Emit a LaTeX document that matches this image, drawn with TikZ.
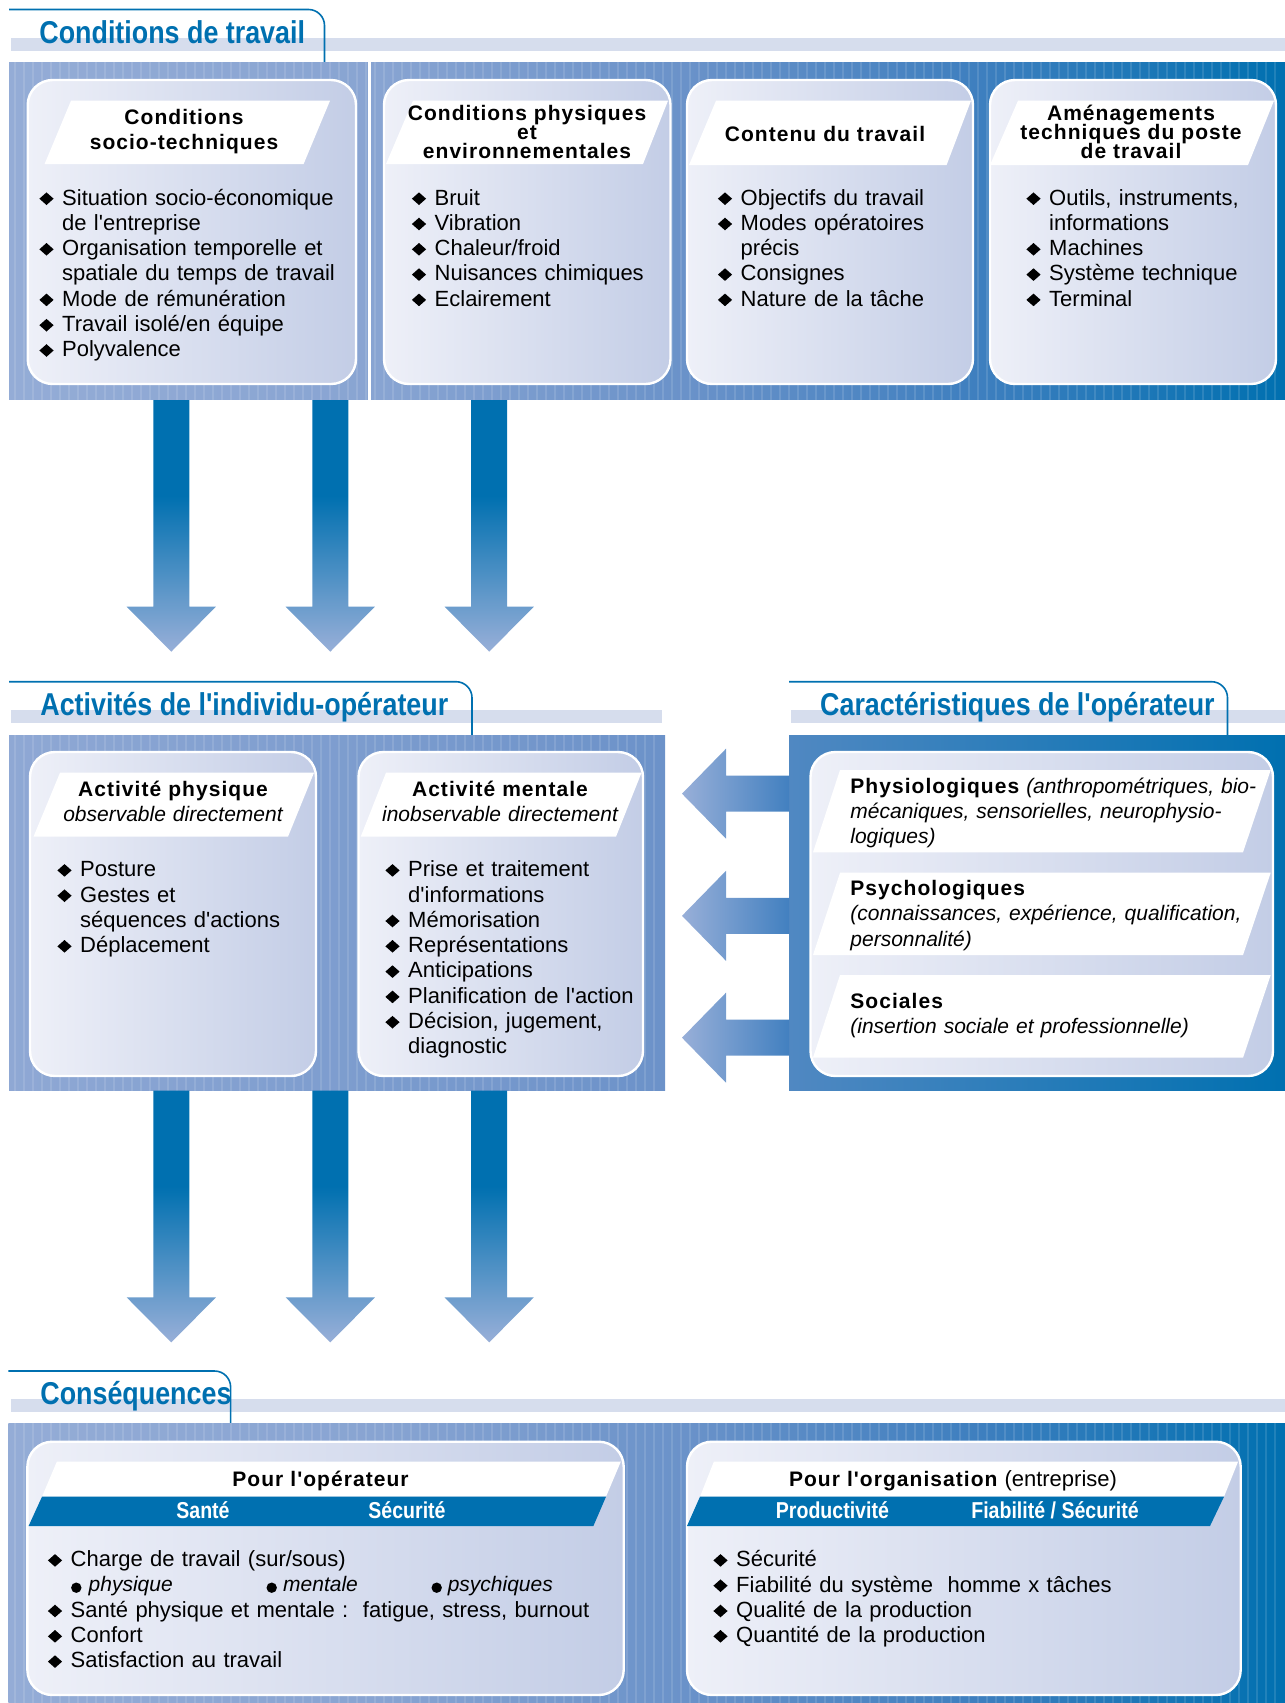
\documentclass[tikz,border=0pt]{standalone}
\usepackage{fontspec}
\usepackage{graphicx}
\setmainfont[Ligatures=TeXOff]{Liberation Sans}
\newfontfamily\headfont[LetterSpace=5,Ligatures=TeXOff]{Liberation Sans}
\newfontfamily\titlefont[FakeStretch=0.85,Ligatures=TeXOff]{Liberation Sans}

\definecolor{titleblue}{RGB}{0,112,176}
\definecolor{bandgray}{RGB}{214,221,237}
\definecolor{panel0}{RGB}{148,172,214}
\definecolor{panel1}{RGB}{136,164,210}
\definecolor{panel2}{RGB}{106,146,201}
\definecolor{panel3}{RGB}{62,127,191}
\definecolor{boxlight}{RGB}{238,240,248}
\definecolor{boxdark}{RGB}{195,205,230}
\definecolor{arrowlight}{RGB}{152,175,216}
\definecolor{arrowend}{RGB}{66,128,192}
\definecolor{midleft}{RGB}{143,168,212}
\definecolor{midright}{RGB}{108,146,201}
\definecolor{charleft}{RGB}{80,136,194}

\pgfdeclarehorizontalshading{panelshade}{100bp}{color(0bp)=(panel0); color(25bp)=(panel0); color(39.5bp)=(panel1); color(51.5bp)=(panel2); color(63bp)=(panel3); color(75bp)=(titleblue); color(100bp)=(titleblue)}
\pgfdeclareverticalshading{dropshade}{100bp}{color(0bp)=(arrowlight); color(25bp)=(arrowlight); color(56bp)=(titleblue); color(100bp)=(titleblue)}

% diamond bullet and the indent of a continued line.
\newcommand\puce{\makebox[11.4pt][l]{\resizebox{7.1pt}{6.3pt}{\rotatebox{45}{\rule{5pt}{5pt}}}}}
\newcommand\suite{\hspace*{11.4pt}}

\tikzset{
  panel/.style={shading=panelshade},
  innerbox/.style={draw=white, line width=1.2pt, rounded corners=12.5pt, left color=boxlight, right color=boxdark},
  band/.style={fill=bandgray},
  tabline/.style={draw=titleblue, line width=0.8pt, rounded corners=8pt},
  stripe/.style={white, opacity=0.12, line width=0.6pt},
  title/.style={anchor=base west, inner sep=0pt, text=titleblue, font=\titlefont\bfseries\fontsize{15.8}{18}\selectfont},
  head/.style={anchor=base, inner sep=0pt, align=center, text width=270pt, font={\headfont\bfseries\fontsize{10.5}{12.5}\selectfont\lineskiplimit=-20pt}},
  head3/.style={head, font={\headfont\bfseries\fontsize{10.5}{9.5}\selectfont\lineskiplimit=-20pt}},
  sublabel/.style={anchor=base, inner sep=0pt, text=white, font=\titlefont\bfseries\fontsize{11.5}{13}\selectfont},
  items/.style={anchor=base west, inner sep=0pt, align=left, text width=280pt, font={\fontsize{11}{12.65}\selectfont\lineskiplimit=-20pt}},
  chartext/.style={anchor=base west, inner sep=0pt, align=left, text width=220pt, font={\fontsize{10.5}{12.6}\selectfont\lineskiplimit=-20pt}},
  subitem/.style={anchor=base west, inner sep=0pt, font=\itshape\fontsize{10.5}{12}\selectfont},
  down arrow/.pic={
    \path[shading=dropshade] (-18,0) -- (18,0) -- (18,206.7) -- (44.6,206.7)
      -- (0,251.7) -- (-44.6,206.7) -- (-18,206.7) -- cycle;
  },
  left arrow/.pic={
    \path[left color=arrowlight, right color=arrowend] (0,-18) -- (-63,-18) -- (-63,-45)
      -- (-107,0) -- (-63,45) -- (-63,18) -- (0,18) -- cycle;
  }
}

\begin{document}
\begin{tikzpicture}[x=0.5pt, y=-0.5pt]
    \useasboundingbox (0,0) rectangle (1285,1703);

    % title tab, conditions de travail.
    \fill[band] (11,38.3) rectangle (1285,50.7);
    \draw[tabline] (9,9.5) -- (324.5,9.5) -- (324.5,62);
    \node[title] (travail title) at (39,43) {Conditions de travail};

    % top panel with its striping and separator.
    \path[panel] (9,62) rectangle (1285,399.5);
    \foreach \x in {15,24,...,1280}
        \draw[stripe] (\x,62) -- (\x,399.5);
    \draw[white, line width=1.5pt] (369.5,62) -- (369.5,399.5);

    % top boxes.
    \draw[innerbox] (27.7,80) rectangle (356,384);
    \draw[innerbox] (384,80) rectangle (670.5,384);
    \draw[innerbox] (687,80) rectangle (973,384);
    \draw[innerbox] (990,80) rectangle (1276,384);
    \fill[white] (71,100.7) -- (330,100.7) -- (303.6,164) -- (44.6,164) -- cycle;
    \fill[white] (413,100.7) -- (668,100.7) -- (643,164) -- (386,164) -- cycle;
    \fill[white] (716,100.7) -- (971,100.7) -- (946.6,165) -- (689,165) -- cycle;
    \fill[white] (1018,100.7) -- (1274,100.7) -- (1248,165) -- (990,165) -- cycle;
    \node[head] (socio head) at (184,124) {Conditions\\socio-techniques};
    \node[head3] (physique head) at (527,120) {Conditions physiques\\et\\environnementales};
    \node[head] (contenu head) at (825,141.7) {Contenu du travail};
    \node[head3] (amenagement head) at (1131,120) {Aménagements\\techniques du poste\\de travail};
    \node[items] (socio items) at (39,205) {\puce Situation socio-économique\\\suite de l'entreprise\\\puce Organisation temporelle et\\\suite spatiale du temps de travail\\\puce Mode de rémunération\\\puce Travail isolé/en équipe\\\puce Polyvalence};
    \node[items] (physique items) at (411.5,205) {\puce Bruit\\\puce Vibration\\\puce Chaleur/froid\\\puce Nuisances chimiques\\\puce Eclairement};
    \node[items] (contenu items) at (717.5,205) {\puce Objectifs du travail\\\puce Modes opératoires\\\suite précis\\\puce Consignes\\\puce Nature de la tâche};
    \node[items] (amenagement items) at (1026,205) {\puce Outils, instruments,\\\suite informations\\\puce Machines\\\puce Système technique\\\puce Terminal};

    % arrows down to the activities.
    \pic at (171.3,400) {down arrow};
    \pic at (330.3,400) {down arrow};
    \pic at (489.2,400) {down arrow};

    % title tabs, activites and caracteristiques.
    \fill[band] (11,710) rectangle (662,722.7);
    \draw[tabline] (9,681.7) -- (472,681.7) -- (472,735);
    \node[title] (activites title) at (40,715) {Activités de l'individu-opérateur};
    \fill[band] (791,710) rectangle (1285,722.7);
    \draw[tabline] (789,681.7) -- (1227.5,681.7) -- (1227.5,735);
    \node[title] (operateur title) at (819.8,715) {Caractéristiques de l'opérateur};

    % activites panel.
    \path[left color=midleft, right color=midright] (9,735) rectangle (665,1090.7);
    \foreach \x in {15,24,...,660}
        \draw[stripe] (\x,735) -- (\x,1090.7);
    \draw[innerbox] (30,752) rectangle (316,1076);
    \draw[innerbox] (358.5,752) rectangle (643,1076);
    \fill[white] (60,772.7) -- (314,772.7) -- (288,836.7) -- (33.5,836.7) -- cycle;
    \fill[white] (386,772.7) -- (641.5,772.7) -- (616,836.7) -- (360.7,836.7) -- cycle;
    \node[head] (physique act) at (173,796.7) {Activité physique\\{\normalfont\itshape\fontsize{10.5}{12.5}\selectfont observable directement}};
    \node[head] (mentale act) at (500,796.7) {Activité mentale\\{\normalfont\itshape\fontsize{10.5}{12.5}\selectfont inobservable directement}};
    \node[items] (physique list) at (57,876.7) {\puce Posture\\\puce Gestes et\\\suite séquences d'actions\\\puce Déplacement};
    \node[items] (mentale list) at (385,876.7) {\puce Prise et traitement\\\suite d'informations\\\puce Mémorisation\\\puce Représentations\\\puce Anticipations\\\puce Planification de l'action\\\puce Décision, jugement,\\\suite diagnostic};

    % caracteristiques panel.
    \path[left color=charleft, right color=titleblue] (789,735) rectangle (1285,1090.7);
    \draw[innerbox] (810.5,752) rectangle (1273,1076);
    \fill[white] (840,770) -- (1270.7,770) -- (1243,852.3) -- (813,852.3) -- cycle;
    \fill[white] (840,872.7) -- (1270.7,872.7) -- (1243,955) -- (813,955) -- cycle;
    \fill[white] (840,975) -- (1270.7,975) -- (1243,1057.7) -- (813,1057.7) -- cycle;
    \node[chartext] (physio text) at (850,793.3) {{\headfont\bfseries Physiologiques} \textit{(anthropométriques, bio-}\\\textit{mécaniques, sensorielles, neurophysio-}\\\textit{logiques)}};
    \node[chartext] (psycho text) at (850,895.7) {{\headfont\bfseries Psychologiques}\\\textit{(connaissances, expérience, qualification,}\\\textit{personnalité)}};
    \node[chartext] (sociales text) at (850,1008) {{\headfont\bfseries Sociales}\\\textit{(insertion sociale et professionnelle)}};

    % arrows from the operator to the activities.
    \pic at (789,793.7) {left arrow};
    \pic at (789,915.8) {left arrow};
    \pic at (789,1037.7) {left arrow};

    % arrows down to the consequences.
    \pic at (171.3,1090.7) {down arrow};
    \pic at (330.3,1090.7) {down arrow};
    \pic at (489.2,1090.7) {down arrow};

    % title tab, consequences.
    \fill[band] (10.5,1399) rectangle (1285,1411.7);
    \draw[tabline] (8.4,1371) -- (230.6,1371) -- (230.6,1423.3);
    \node[title] (consequences title) at (40,1404.3) {Conséquences};

    % consequences panel.
    \path[panel] (8.4,1423.3) rectangle (1285,1703);
    \foreach \x in {15,24,...,1280}
        \draw[stripe] (\x,1423.3) -- (\x,1703);
    \draw[innerbox] (27.4,1441.7) rectangle (623.7,1695);
    \draw[innerbox] (687,1441.7) rectangle (1240.7,1695);
    \fill[white] (56.8,1461.7) -- (620.8,1461.7) -- (606,1496.7) -- (42,1496.7) -- cycle;
    \fill[titleblue] (42,1496.7) -- (606,1496.7) -- (593.4,1526) -- (28.6,1526) -- cycle;
    \fill[white] (713.8,1461.7) -- (1238,1461.7) -- (1224,1496.7) -- (700,1496.7) -- cycle;
    \fill[titleblue] (700,1496.7) -- (1224,1496.7) -- (1210,1526) -- (687,1526) -- cycle;
    \node[head] (operateur head) at (320.5,1486.7) {Pour l'opérateur};
    \node[sublabel] (sante label) at (203,1518) {Santé};
    \node[sublabel] (securite label) at (407,1518) {Sécurité};
    \node[head] (organisation head) at (953,1486.7) {Pour l'organisation {\normalfont\fontsize{11}{12.5}\selectfont(entreprise)}};
    \node[sublabel] (productivite label) at (832.4,1518) {Productivité};
    \node[sublabel] (fiabilite label) at (1055,1518) {Fiabilité / Sécurité};
    \node[items] (operateur items) at (47.5,1566.7) {\puce Charge de travail (sur/sous)\\\mbox{}\\\puce Santé physique et mentale :~~fatigue, stress, burnout\\\puce Confort\\\puce Satisfaction au travail};
    % round bullets of the workload.
    \fill (76.3,1587.7) circle (2.6pt);
    \fill (271.7,1587.7) circle (2.6pt);
    \fill (436.7,1587.7) circle (2.6pt);
    \node[subitem] (physique charge) at (88.3,1591.7) {physique};
    \node[subitem] (mentale charge) at (282.8,1591.7) {mentale};
    \node[subitem] (psychique charge) at (447.4,1591.7) {psychiques};
    \node[items] (organisation items) at (713,1566.7) {\puce Sécurité\\\puce Fiabilité du système~~homme x tâches\\\puce Qualité de la production\\\puce Quantité de la production};
\end{tikzpicture}
\end{document}
